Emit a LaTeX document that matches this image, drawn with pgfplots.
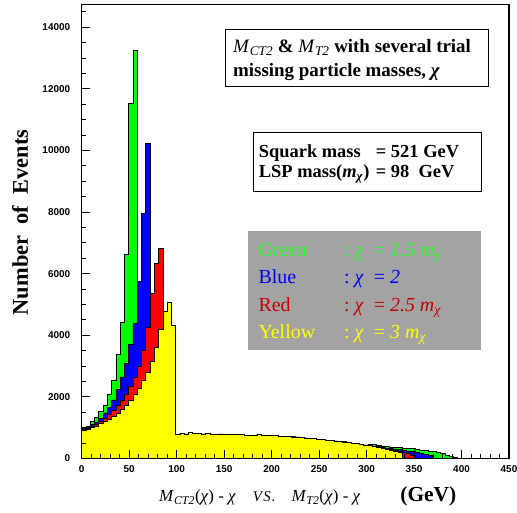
\documentclass[border=0pt]{standalone}
\usepackage{fontspec}
\setmainfont{Liberation Serif}
\setsansfont{Liberation Sans}
\usepackage{pgfplots}
\usepackage{pgfplotstable}
\pgfplotsset{compat=1.18}

\definecolor{hgreen}{RGB}{0,255,0}
\definecolor{hblue}{RGB}{0,0,255}
\definecolor{hred}{RGB}{255,0,0}
\definecolor{hyellow}{RGB}{255,255,0}
\definecolor{boxgray}{RGB}{163,163,163}
\definecolor{txtgreen}{RGB}{40,255,40}
\definecolor{txtred}{RGB}{200,0,0}

% bins of 4.5 GeV, left edges; g=1.5m, b=2, r=2.5m, y=3m
\pgfplotstableread{
x      g      b      r      y
0      980    950    920    900
4.5    1060   1000   970    950
9      1200   1100   1040   1000
13.5   1330   1180   1110   1060
18     1520   1300   1200   1130
22.5   1730   1480   1300   1200
27     2100   1650   1420   1280
31.5   2550   1900   1560   1370
36     3380   2250   1720   1470
40.5   4420   2650   1900   1590
45     6630   3100   2100   1730
49.5   11530  3700   2350   1890
54     13260  4400   2650   2070
58.5   820    5740   3000   2280
63     820    7960   3500   2530
67.5   820    10230  4250   2800
72     810    820    5360   3150
76.5   810    810    6340   3600
81     800    800    6820   4200
85.5   800    800    800    4770
90     790    790    790    5060
94.5   780    780    780    4340
99     770    770    770    770
103.5  820    820    820    820
108    800    800    800    800
112.5  850    850    850    850
117    820    820    820    820
121.5  810    810    810    810
126    800    800    800    800
130.5  810    810    810    810
135    790    790    790    790
139.5  790    790    790    790
144    800    800    800    800
148.5  790    790    790    790
153    780    780    780    780
157.5  780    780    780    780
162    770    770    770    770
166.5  770    770    770    770
171    760    760    760    760
175.5  750    750    750    750
180    760    760    760    760
184.5  780    780    780    780
189    760    760    760    760
193.5  750    750    750    750
198    740    740    740    740
202.5  740    740    740    740
207    730    730    730    730
211.5  720    720    720    720
216    710    710    710    710
220.5  700    700    730    700
225    700    700    700    700
229.5  690    690    690    690
234    670    670    670    670
238.5  660    660    660    660
243    640    640    640    640
247.5  630    630    630    630
252    620    620    620    620
256.5  600    600    600    600
261    590    590    590    590
265.5  570    570    570    570
270    550    550    550    550
274.5  540    540    560    540
279    520    520    520    520
283.5  500    500    500    500
288    480    480    480    480
292.5  460    460    460    460
297    440    440    440    440
301.5  470    420    420    420
306    450    400    390    390
310.5  420    380    370    360
315    400    360    350    330
319.5  380    340    320    300
324    370    320    300    270
328.5  360    300    270    240
333    350    290    240    200
337.5  340    270    210    0
342    330    250    160    0
346.5  320    230    90     0
351    300    200    0      0
355.5  280    170    0      0
360    260    140    0      0
364.5  240    90     0      0
369    220    0      0      0
373.5  190    0      0      0
378    160    0      0      0
382.5  120    0      0      0
387    80     0      0      0
391.5  40     0      0      0
396    0      0      0      0
}\hist

\begin{document}
\begin{tikzpicture}
\path[use as bounding box] (-81.7bp,-54.5bp) rectangle (435.3bp,458.5bp);
\begin{axis}[
    scale only axis,
    width=427.3bp, height=454.2bp,
    xmin=0, xmax=450, ymin=0, ymax=14750,
    axis on top,
    axis line style={line width=1.3pt},
    tick align=inside, tick pos=left,
    xtick={0,50,...,450},
    minor xtick={0,10,...,450},
    ytick={0,2000,...,14000},
    minor ytick={0,500,...,14500},
    major tick length=8bp, minor tick length=4.5bp,
    every tick/.style={black, line width=1pt},
    scaled ticks=false,
    /pgf/number format/1000 sep={},
    /pgf/number format/assume math mode=true,
    ticklabel style={font=\sffamily\bfseries\fontsize{10}{12}\selectfont},
    yticklabel style={xshift=-8bp},
    xticklabel style={yshift=-4bp},
]
\addplot[const plot, fill=hgreen, draw=black, line width=0.6pt] table[x=x, y=g] {\hist} \closedcycle;
\addplot[const plot, fill=hblue, draw=black, line width=0.6pt] table[x=x, y=b] {\hist} \closedcycle;
\addplot[const plot, fill=hred, draw=black, line width=0.6pt] table[x=x, y=r] {\hist} \closedcycle;
\addplot[const plot, fill=hyellow, draw=black, line width=0.6pt] table[x=x, y=y] {\hist} \closedcycle;
\end{axis}

% axis titles
\node[rotate=90, anchor=base, font=\bfseries\fontsize{22.5}{23}\selectfont]
  at (-53.7bp,236bp) {Number\ \ of\ \ Events};
\node[anchor=base west, inner sep=0pt, font=\fontsize{17}{17}\selectfont] at (77.3bp,-43.2bp)
  {\textit{M}\textsubscript{\textit{CT2}}(\textit{χ}) - \textit{χ}\hspace{17bp}%
   {\fontsize{15}{14}\selectfont\textit{V\kern1.2bp S\kern1bp.}}\hspace{16bp}%
   \textit{M}\textsubscript{\textit{T2}}(\textit{χ}) - \textit{χ}\hspace{40bp}%
   {\fontsize{21.5}{20}\selectfont\textbf{(GeV)}}};

% title box
\draw[line width=0.8pt, fill=white] (143.3bp,371.8bp) rectangle (406.3bp,429.5bp);
\node[anchor=base west, inner sep=0pt, font=\bfseries\fontsize{19}{19}\selectfont] at (151.3bp,405.5bp)
  {\textit{\mdseries M}\textsubscript{\textit{\mdseries CT2}} \& \textit{\mdseries M}\textsubscript{\textit{\mdseries T2}} with several trial};
\node[anchor=base west, inner sep=0pt, font=\bfseries\fontsize{19}{19}\selectfont] at (151.3bp,381.8bp)
  {missing particle masses, \textit{χ}};

% mass box
\draw[line width=0.8pt, fill=white] (172bp,266.8bp) rectangle (399.3bp,326.2bp);
\begin{scope}[every node/.style={anchor=base west, inner sep=0pt, font=\bfseries\fontsize{18.5}{19}\selectfont}]
\node at (177bp,300.5bp) {Squark mass};
\node at (294bp,300.5bp) {= 521 GeV};
\node at (177bp,280.5bp) {LSP mass(\textit{m}\textsubscript{\textit{χ}})};
\node at (294bp,280.5bp) {= 98\ \ GeV};
\end{scope}

% colour key
\fill[boxgray] (166.6bp,108.5bp) rectangle (399bp,227.8bp);
\begin{scope}[every node/.style={anchor=base west, inner sep=0pt, font=\fontsize{20}{20}\selectfont}]
\node[text=txtgreen] at (176.6bp,201.8bp) {Green};
\node[text=txtgreen] at (262.3bp,201.8bp) {:\ \textit{χ}\ \ =\ \textit{1.5 m}\textsubscript{\textit{χ}}};
\node[text=hblue] at (176.6bp,175.2bp) {Blue};
\node[text=hblue] at (262.3bp,175.2bp) {:\ \textit{χ}\ \ =\ \textit{2}};
\node[text=txtred] at (176.6bp,146.8bp) {Red};
\node[text=txtred] at (262.3bp,146.8bp) {:\ \textit{χ}\ \ =\ \textit{2.5 m}\textsubscript{\textit{χ}}};
\node[text=hyellow] at (176.6bp,120.2bp) {Yellow};
\node[text=hyellow] at (262.3bp,120.2bp) {:\ \textit{χ}\ \ =\ \textit{3 m}\textsubscript{\textit{χ}}};
\end{scope}
\end{tikzpicture}
\end{document}
